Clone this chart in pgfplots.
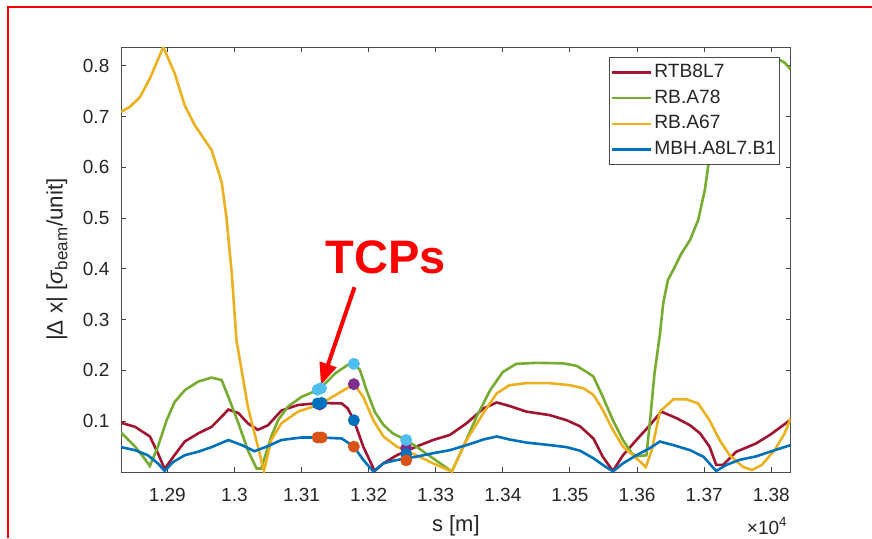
\documentclass[border=0pt]{standalone}
\usepackage{pgfplots}
\pgfplotsset{compat=1.18}
\usepackage{fontspec}
\setmainfont{Liberation Sans}
\usetikzlibrary{arrows.meta}
\definecolor{mred}{HTML}{A2142F}
\definecolor{mgreen}{HTML}{77AC30}
\definecolor{myellow}{HTML}{EDB120}
\definecolor{mblue}{HTML}{0072BD}
\definecolor{morange}{HTML}{D95319}
\definecolor{mpurple}{HTML}{7E2F8E}
\definecolor{mcyan}{HTML}{4DBEEE}
\definecolor{txt}{HTML}{262626}
\begin{document}
\begin{tikzpicture}
\useasboundingbox (0,0) rectangle (436pt,269pt);
\begin{axis}[
  at={(60.5pt,33pt)}, anchor=south west, scale only axis,
  width=334.85pt, height=212.5pt,
  xmin=12831, xmax=13829, ymin=0, ymax=0.837,
  scaled x ticks=false,
  xtick={12900,13000,13100,13200,13300,13400,13500,13600,13700,13800},
  xticklabels={1.29,1.3,1.31,1.32,1.33,1.34,1.35,1.36,1.37,1.38},
  ytick={0.1,0.2,0.3,0.4,0.5,0.6,0.7,0.8},
  yticklabels={0.1,0.2,0.3,0.4,0.5,0.6,0.7,0.8},
  tick align=inside, major tick length=2.3pt,
  axis line style={black!70, line width=0.5pt},
  tick style={black!75, line width=0.5pt},
  every tick label/.append style={font=\fontsize{9.5}{11}\selectfont, text=txt},
  x tick label style={anchor=base, yshift=-14.85pt},
  y tick label style={xshift=-2.3pt},
  xlabel={s [m]},
  xlabel style={at={(axis description cs:0.5,-0.14)}, anchor=base, font=\fontsize{11}{13}\selectfont, text=txt},
  ylabel={|Δ x| [\textit{σ}\textsubscript{\fontsize{8.5}{10}\selectfont beam}/unit]},
  ylabel style={at={(axis description cs:-0.0956,0.5)}, anchor=center, rotate=0, font=\fontsize{11.2}{13}\selectfont, text=txt},
  legend cell align=left,
  legend style={at={(rel axis cs:1,1)}, anchor=north east, xshift=-5.35pt, yshift=-5.15pt,
    draw=black!70, line width=0.4pt, fill=white, font=\fontsize{9.6}{11}\selectfont, text=txt,
    inner xsep=0.5pt, inner ysep=1pt, row sep=0pt,
    nodes={text height=7pt, text depth=2pt, inner ysep=1.9pt, inner xsep=1.3pt}},
  legend image code/.code={\draw[#1, line width=1.2pt] (0pt,0pt) -- (19.5pt,0pt);},
  every axis plot/.append style={line width=1.3pt},
]
\addplot[mred, mark=none] coordinates {
(12831,0.097) (12852,0.089) (12874,0.070) (12886,0.037) (12896,0.006) (12909,0.030)
(12926,0.060) (12946,0.076) (12966,0.089) (12981,0.109) (12991,0.123) (13006,0.116)
(13020,0.096) (13035,0.083) (13050,0.092) (13070,0.121) (13095,0.132) (13127,0.136)
(13160,0.135) (13169,0.125) (13178,0.102) (13192,0.050) (13209,0.002) (13222,0.017)
(13242,0.033) (13271,0.050) (13296,0.063) (13321,0.073) (13346,0.096) (13371,0.125)
(13391,0.137) (13410,0.130) (13435,0.119) (13470,0.112) (13495,0.102) (13515,0.090)
(13535,0.066) (13549,0.030) (13564,0.002) (13579,0.033) (13599,0.063) (13619,0.092)
(13636,0.119) (13659,0.106) (13679,0.092) (13694,0.076) (13708,0.050) (13718,0.014)
(13728,0.014) (13748,0.040) (13777,0.056) (13798,0.073) (13829,0.103)
};
\addlegendentry{RTB8L7}
\addplot[mgreen, mark=none] coordinates {
(12831,0.078) (12852,0.050) (12864,0.030) (12874,0.012) (12886,0.050) (12899,0.102)
(12911,0.138) (12926,0.161) (12946,0.178) (12966,0.186) (12981,0.181) (12991,0.148)
(13006,0.096) (13020,0.043) (13033,0.007) (13040,0.007) (13055,0.070) (13065,0.102)
(13080,0.129) (13100,0.148) (13127,0.163) (13150,0.194) (13169,0.211) (13178,0.213)
(13187,0.201) (13197,0.161) (13209,0.119) (13222,0.093) (13236,0.076) (13256,0.063)
(13271,0.050) (13296,0.027) (13324,0.001) (13341,0.050) (13361,0.109) (13381,0.161)
(13400,0.197) (13420,0.213) (13450,0.215) (13490,0.214) (13510,0.209) (13525,0.197)
(13535,0.188) (13549,0.148) (13564,0.102) (13579,0.063) (13592,0.037) (13599,0.031)
(13614,0.033) (13619,0.096) (13626,0.194) (13634,0.270) (13639,0.332) (13646,0.378)
(13654,0.398) (13666,0.430) (13679,0.457) (13691,0.496) (13701,0.555) (13708,0.621)
(13725,0.700) (13745,0.760) (13770,0.795) (13795,0.805) (13812,0.812) (13820,0.806)
(13829,0.793)
};
\addlegendentry{RB.A78}
\addplot[myellow, mark=none] coordinates {
(12831,0.709) (12844,0.719) (12859,0.738) (12874,0.775) (12894,0.837) (12911,0.785)
(12926,0.722) (12941,0.683) (12966,0.634) (12981,0.571) (12988,0.503) (12996,0.392)
(13003,0.260) (13020,0.129) (13035,0.050) (13044,0.002) (13055,0.063) (13070,0.096)
(13095,0.119) (13127,0.133) (13155,0.155) (13178,0.173) (13192,0.148) (13207,0.102)
(13222,0.070) (13242,0.050) (13271,0.033) (13296,0.017) (13324,0.001) (13346,0.063)
(13371,0.116) (13391,0.155) (13410,0.171) (13435,0.175) (13470,0.175) (13500,0.171)
(13520,0.165) (13535,0.152) (13549,0.122) (13564,0.083) (13579,0.050) (13594,0.033)
(13613,0.010) (13622,0.043) (13634,0.119) (13654,0.143) (13674,0.143) (13691,0.135)
(13708,0.102) (13723,0.063) (13738,0.033) (13758,0.010) (13771,0.004) (13786,0.014)
(13805,0.043) (13820,0.076) (13829,0.106)
};
\addlegendentry{RB.A67}
\addplot[mblue, mark=none] coordinates {
(12831,0.049) (12852,0.043) (12871,0.033) (12886,0.017) (12896,0.002) (12909,0.020)
(12926,0.033) (12946,0.040) (12966,0.049) (12991,0.063) (13011,0.053) (13030,0.041)
(13050,0.051) (13070,0.063) (13100,0.068) (13127,0.068) (13160,0.066) (13178,0.050)
(13192,0.024) (13207,0.001) (13222,0.017) (13236,0.022) (13256,0.027) (13271,0.030)
(13296,0.037) (13321,0.043) (13346,0.053) (13371,0.064) (13391,0.070) (13410,0.064)
(13435,0.058) (13470,0.053) (13495,0.049) (13515,0.042) (13535,0.027) (13549,0.014)
(13564,0.001) (13579,0.017) (13599,0.033) (13619,0.047) (13634,0.060) (13654,0.053)
(13679,0.043) (13699,0.030) (13718,0.002) (13733,0.014) (13753,0.024) (13778,0.031)
(13805,0.043) (13829,0.053)
};
\addlegendentry{MBH.A8L7.B1}
% TCP markers
\addplot[forget plot, only marks, mark=*, mark size=2.3pt, mpurple, draw=none] coordinates {
(13127,0.133) (13178,0.173) (13256,0.047)};
\addplot[forget plot, only marks, mark=*, mark size=2.3pt, mcyan, draw=none] coordinates {
(13124,0.162) (13129,0.165) (13178,0.213) (13256,0.063)};
\addplot[forget plot, only marks, mark=*, mark size=2.3pt, mblue, draw=none] coordinates {
(13124,0.135) (13130,0.136) (13178,0.102) (13256,0.035)};
\addplot[forget plot, only marks, mark=*, mark size=2.3pt, morange, draw=none] coordinates {
(13124,0.068) (13130,0.068) (13178,0.050) (13256,0.023)};
% annotation
\node[text=red, font=\fontsize{23.5}{28}\selectfont\bfseries, inner sep=0pt] at (axis cs:13226,0.423) {TCPs};
\draw[red, line width=2pt, -{Triangle[length=11pt,width=8.5pt]}] (axis cs:13179,0.364) -- (axis cs:13129,0.171);
\end{axis}
\node[anchor=base east, font=\fontsize{9.5}{11}\selectfont, text=txt, inner sep=0pt] at (394pt,2pt) {×10\textsuperscript{4}};
\draw[red, line width=1pt] (3.75pt,0pt) -- (3.75pt,265.75pt) -- (436pt,265.75pt);
\end{tikzpicture}
\end{document}
